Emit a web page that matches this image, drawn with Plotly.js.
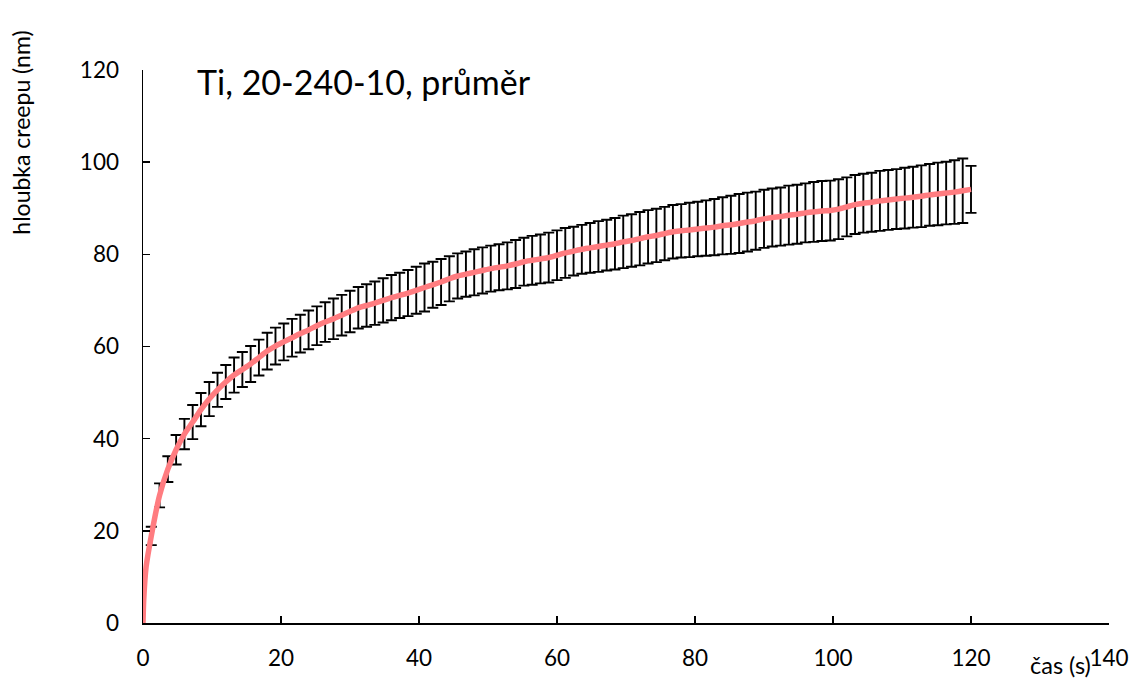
<!DOCTYPE html>
<html>
<head>
<meta charset="utf-8">
<script src="https://cdn.plot.ly/plotly-3.0.1.min.js"></script>
<style>html,body{margin:0;padding:0;background:#fff;}#chart{width:1138px;height:684px;}</style>
</head>
<body>
<div id="chart"></div>
<script>
// Times of the error-bar points (s)
const barTime = [1.2,2.4,3.6,4.8,6.0,7.2,8.4,9.6,10.8,12.0,13.2,14.4,15.6,16.8,18.0,19.2,20.4,21.6,22.8,24.0,
  25.2,26.4,27.6,28.8,30.0,31.2,32.4,33.6,34.8,36.0,37.2,38.4,39.6,40.8,42.0,43.2,44.4,45.6,46.8,48.0,
  49.2,50.4,51.6,52.8,54.0,55.2,56.4,57.6,58.8,60.0,61.2,62.4,63.6,64.8,66.0,67.2,68.4,69.6,70.8,72.0,
  73.2,74.4,75.6,76.8,78.0,79.2,80.4,81.6,82.8,84.0,85.2,86.4,87.6,88.8,90.0,91.2,92.4,93.6,94.8,96.0,
  97.2,98.4,99.6,100.8,102.0,103.2,104.4,105.6,106.8,108.0,109.2,110.4,111.6,112.8,114.0,115.2,116.4,117.6,118.8,120.0];
// Mean creep depth (nm)
const meanDepth = [18.9,27.7,33.4,37.6,41.0,43.6,46.3,48.6,50.6,52.3,53.8,55.0,56.2,57.6,59.0,60.1,61.0,61.9,62.8,63.6,
  64.5,65.3,66.0,66.8,67.6,68.4,68.9,69.4,70.0,70.6,71.1,71.6,72.2,72.8,73.4,74.0,74.7,75.3,75.7,76.1,
  76.5,76.9,77.2,77.5,77.9,78.4,78.7,79.0,79.3,79.8,80.3,80.7,81.1,81.4,81.7,82.0,82.3,82.7,83.0,83.4,
  83.8,84.1,84.5,84.9,85.1,85.3,85.5,85.7,85.9,86.2,86.4,86.7,87.0,87.3,87.7,88.0,88.2,88.5,88.7,89.0,
  89.2,89.4,89.5,89.8,90.3,90.8,91.1,91.3,91.6,91.8,92.0,92.2,92.4,92.6,92.9,93.1,93.3,93.5,93.8,94.1];
// Error (half-width of bar, nm)
const errDepth = [2.0,2.6,2.8,3.2,3.3,3.7,3.6,3.7,3.7,3.7,3.8,3.8,3.9,3.9,4.0,4.0,4.0,4.1,4.1,4.2,
  4.2,4.3,4.4,4.4,4.5,4.5,4.6,4.7,4.8,4.9,4.9,5.0,5.1,5.2,5.0,5.0,4.9,4.9,4.9,5.0,
  5.0,5.0,5.0,5.1,5.2,5.2,5.3,5.3,5.4,5.4,5.4,5.3,5.3,5.4,5.5,5.5,5.6,5.7,5.7,5.8,
  5.8,5.8,5.8,5.8,5.8,5.9,5.9,6.0,6.1,6.2,6.3,6.4,6.4,6.3,6.3,6.3,6.3,6.4,6.4,6.4,
  6.5,6.5,6.5,6.5,6.4,6.4,6.4,6.4,6.5,6.5,6.5,6.6,6.6,6.7,6.7,6.8,6.8,6.9,7.0,5.1];
// Early part of the curve before the first error bar
const startTime = [0, 0.1, 0.45];
const startDepth = [0, 4.9, 12.2];

const lineX = startTime.concat(barTime);
const lineY = startDepth.concat(meanDepth);

const xTicks = [0,20,40,60,80,100,120,140];
const yTicks = [0,20,40,60,80,100,120];

const FONT = 'Lato, "Open Sans", sans-serif';

const traces = [
  {
    x: barTime, y: meanDepth, type: 'scatter', mode: 'markers',
    marker: {size: 1, color: 'rgba(0,0,0,0)'},
    error_y: {type: 'data', array: errDepth, visible: true, color: '#000000', thickness: 1.9, width: 5.5},
    hoverinfo: 'skip', showlegend: false
  },
  {
    x: lineX, y: lineY, type: 'scatter', mode: 'lines',
    line: {color: '#FF7C80', width: 5.5, shape: 'spline', smoothing: 0.6},
    showlegend: false
  }
];

const layout = {
  width: 1138, height: 684,
  margin: {l: 142.5, r: 28.5, t: 70, b: 61.3, pad: 0},
  paper_bgcolor: '#ffffff', plot_bgcolor: '#ffffff',
  font: {family: FONT, color: '#000000'},
  title: {
    text: 'Ti, 20-240-10, průměr',
    font: {family: FONT, size: 34, color: '#000000'},
    xref: 'paper', x: 0.056, xanchor: 'left',
    yref: 'container', y: 1 - 83/684, yanchor: 'middle'
  },
  xaxis: {
    range: [0, 140], tickvals: xTicks, ticktext: xTicks.map(String),
    showgrid: false, zeroline: false, showline: true, linecolor: '#000000', linewidth: 1.5,
    ticks: 'inside', ticklen: 7, tickwidth: 1.5, tickcolor: '#000000',
    tickfont: {family: FONT, size: 22.5, color: '#000000'},
    ticklabelstandoff: 14
  },
  yaxis: {
    range: [0, 120], tickvals: yTicks, ticktext: yTicks.map(String),
    showgrid: false, zeroline: false, showline: true, linecolor: '#000000', linewidth: 1.5,
    ticks: 'inside', ticklen: 7, tickwidth: 1.5, tickcolor: '#000000',
    tickfont: {family: FONT, size: 22.5, color: '#000000'},
    ticklabelstandoff: 18
  },
  annotations: [
    {
      text: 'hloubka creepu (nm)', xref: 'paper', yref: 'paper',
      x: (20 - 142.5) / 967, y: (622.7 - 133) / 552.7, xanchor: 'center', yanchor: 'middle',
      textangle: -90, showarrow: false, font: {family: FONT, size: 23, color: '#000000'}
    },
    {
      text: 'čas (s)', xref: 'paper', yref: 'paper',
      x: (1061 - 142.5) / 967, y: (622.7 - 665) / 552.7, xanchor: 'center', yanchor: 'middle',
      showarrow: false, font: {family: FONT, size: 23.5, color: '#000000'}
    }
  ]
};

Plotly.newPlot('chart', traces, layout, {displayModeBar: false, staticPlot: true});
</script>
</body>
</html>
